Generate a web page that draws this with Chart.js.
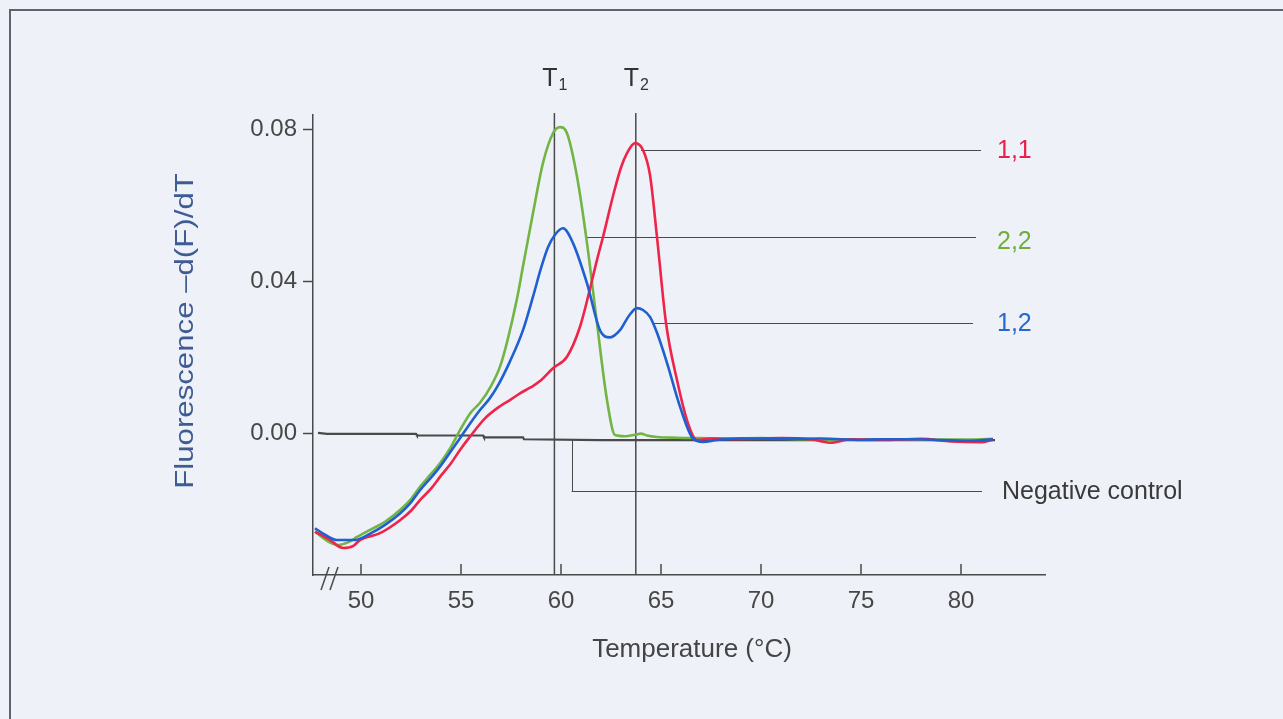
<!DOCTYPE html>
<html>
<head>
<meta charset="utf-8">
<title>Melting curve analysis</title>
<script src="https://cdn.jsdelivr.net/npm/chart.js@4.4.1/dist/chart.umd.min.js"></script>
<style>
  html, body { margin: 0; padding: 0; background: #eef1f8; }
  body { width: 1283px; height: 719px; position: relative; overflow: hidden; }
  .frame { position: absolute; left: 9px; top: 9px; right: -10px; bottom: -10px;
           border-top: 2px solid #5d6372; border-left: 2px solid #5d6372; }
  canvas { position: absolute; left: 0; top: 0; }
</style>
</head>
<body>
<div class="frame"></div>
<canvas id="meltChart" width="1283" height="719"></canvas>
<script>
// axis ticks
const xTickValues = [50, 55, 60, 65, 70, 75, 80];
const yTickValues = [0.00, 0.04, 0.08];

// genotype 1,1 (red)
const temp11 = [47.7, 48.45, 49.1, 49.6, 49.95, 50.95, 51.95, 52.5, 52.95, 53.5, 53.95, 54.5, 54.95, 55.45, 56.2, 56.95, 57.5, 57.95, 58.5, 58.95, 59.6, 60.3, 60.95, 61.4, 61.8, 62.1, 62.6, 63.0, 63.3, 63.7, 64.1, 64.45, 64.8, 65.25, 65.8, 66.35, 66.8, 67.5, 69, 71, 72.5, 73.5, 74.5, 76, 78, 79.5, 81, 81.6];
const deriv11 = [-0.0258, -0.0280, -0.0301, -0.0296, -0.0280, -0.0262, -0.0228, -0.0203, -0.0175, -0.0145, -0.0114, -0.0078, -0.0043, -0.0008, 0.0040, 0.0072, 0.0090, 0.0106, 0.0122, 0.0138, 0.0172, 0.0202, 0.0281, 0.0370, 0.0457, 0.0517, 0.0625, 0.0700, 0.0738, 0.0764, 0.0746, 0.0680, 0.0517, 0.0291, 0.0141, 0.0027, -0.0017, -0.0013, -0.0014, -0.0012, -0.0015, -0.0024, -0.0015, -0.0017, -0.0014, -0.0021, -0.0023, -0.0016];

// genotype 2,2 (green)
const temp22 = [47.7, 48.3, 48.85, 49.4, 49.8, 50.5, 51.2, 51.95, 52.5, 52.95, 53.5, 53.95, 54.5, 54.95, 55.5, 55.95, 56.5, 56.95, 57.3, 57.8, 58.1, 58.6, 59.1, 59.6, 59.95, 60.3, 60.8, 61.3, 61.8, 62.3, 62.7, 63.2, 63.7, 64.0, 64.3, 64.8, 65.8, 67, 68.5, 70, 72, 74, 76, 78, 80, 81.6];
const deriv22 = [-0.0258, -0.0282, -0.0293, -0.0285, -0.0272, -0.0252, -0.0232, -0.0201, -0.0172, -0.0140, -0.0106, -0.0078, -0.0035, 0.0009, 0.0056, 0.0081, 0.0125, 0.0176, 0.0240, 0.0355, 0.0440, 0.0580, 0.0712, 0.0790, 0.0806, 0.0790, 0.0676, 0.0501, 0.0290, 0.0088, -0.0004, -0.0007, -0.0003, 0.0000, -0.0005, -0.0009, -0.0011, -0.0012, -0.0013, -0.0012, -0.0015, -0.0016, -0.0015, -0.0016, -0.0016, -0.0014];

// genotype 1,2 (blue)
const temp12 = [47.7, 48.2, 48.8, 49.7, 50.5, 51.2, 51.95, 52.5, 52.95, 53.5, 53.95, 54.5, 54.95, 55.5, 55.95, 56.4, 56.8, 57.45, 58.1, 58.6, 59.0, 59.35, 59.7, 60.1, 60.6, 61.3, 61.95, 62.45, 62.95, 63.4, 63.8, 64.1, 64.45, 64.8, 65.3, 65.95, 66.6, 67.1, 67.8, 69, 71, 73, 75, 76, 77.5, 79, 80.5, 81.6];
const deriv12 = [-0.0249, -0.0266, -0.0280, -0.0280, -0.0262, -0.0240, -0.0210, -0.0181, -0.0149, -0.0116, -0.0087, -0.0046, -0.0012, 0.0030, 0.0062, 0.0090, 0.0122, 0.0190, 0.0272, 0.0360, 0.0435, 0.0490, 0.0523, 0.0540, 0.0501, 0.0395, 0.0272, 0.0253, 0.0272, 0.0310, 0.0330, 0.0325, 0.0307, 0.0265, 0.0186, 0.0071, -0.0013, -0.0022, -0.0017, -0.0013, -0.0014, -0.0013, -0.0017, -0.0015, -0.0015, -0.0017, -0.0019, -0.0015];

// negative control (dark grey)
const tempNeg = [47.85, 48.3, 52.75, 52.8, 56.1, 56.15, 58.1, 58.15, 62, 81.7];
const derivNeg = [0.0002, -0.0001, -0.0001, -0.0005, -0.0005, -0.0010, -0.0010, -0.0015, -0.0017, -0.0017];

// melting temperatures T1, T2
const meltTemps = [59.67, 63.74];
const meltIndex = ['1', '2'];

// label pointers: 1,1 / 2,2 / 1,2 / negative control
const labelNames = ['1,1', '2,2', '1,2', 'Negative control'];
const pointerFrom = [64.0, 61.2, 64.6, 60.53];
const pointerTo = [81.0, 80.75, 80.6, 81.05];
const pointerLevel = [0.0746, 0.0517, 0.0291, -0.0151];
const negPointerTop = -0.0017;

const labelColors = ['#ea1e4b', '#6fae3a', '#2568d0', '#3a3a3a'];
const FONT = '"Liberation Sans", Arial, Helvetica, sans-serif';

function toPoints(temps, vals) {
    return temps.map((t, i) => ({ x: t, y: vals[i] }));
}

function line(ctx, x1, y1, x2, y2) {
    ctx.beginPath();
    ctx.moveTo(x1, y1);
    ctx.lineTo(x2, y2);
    ctx.stroke();
}

// extra drawing: T lines, pointer lines, labels, inward x ticks, axis break, titles
const meltAnnotations = {
    id: 'meltAnnotations',
    beforeDatasetsDraw(chart) {
        const { ctx, chartArea: area, scales: { x, y } } = chart;
        ctx.save();
        ctx.strokeStyle = '#4a4a4a';

        // T1 / T2 vertical lines
        ctx.lineWidth = 1.5;
        meltTemps.forEach(t => {
            const px = x.getPixelForValue(t);
            line(ctx, px, area.top - 2, px, area.bottom);
        });

        // thin pointer lines to the labels
        ctx.lineWidth = 1;
        pointerLevel.forEach((lvl, i) => {
            const py = Math.round(y.getPixelForValue(lvl)) + 0.5;
            line(ctx, x.getPixelForValue(pointerFrom[i]), py, x.getPixelForValue(pointerTo[i]), py);
        });
        const negX = Math.round(x.getPixelForValue(pointerFrom[3])) + 0.5;
        line(ctx, negX, y.getPixelForValue(negPointerTop), negX, y.getPixelForValue(pointerLevel[3]));
        ctx.restore();
    },
    afterDraw(chart) {
        const { ctx, chartArea: area, scales: { x, y } } = chart;
        ctx.save();
        ctx.strokeStyle = '#4a4a4a';
        ctx.lineWidth = 1.5;

        // x ticks point up into the plot
        xTickValues.forEach(v => {
            const px = x.getPixelForValue(v);
            line(ctx, px, area.bottom, px, area.bottom - 11);
        });

        // axis break "//"
        [48.0, 48.45].forEach(v => {
            const px = x.getPixelForValue(v);
            line(ctx, px, area.bottom + 15, px + 8, area.bottom - 8);
        });

        // T labels with subscripts
        ctx.fillStyle = '#333';
        ctx.textBaseline = 'alphabetic';
        meltTemps.forEach((t, i) => {
            const px = x.getPixelForValue(t);
            ctx.font = '25px ' + FONT;
            const tw = ctx.measureText('T').width;
            ctx.font = '16px ' + FONT;
            const sw = ctx.measureText(meltIndex[i]).width;
            const x0 = px - (tw + sw) / 2;
            ctx.font = '25px ' + FONT;
            ctx.fillText('T', x0, area.top - 29);
            ctx.font = '16px ' + FONT;
            ctx.fillText(meltIndex[i], x0 + tw + 1, area.top - 25);
        });

        // labels on the right
        ctx.font = '25px ' + FONT;
        ctx.textBaseline = 'middle';
        ctx.textAlign = 'left';
        labelNames.forEach((name, i) => {
            ctx.fillStyle = labelColors[i];
            const py = y.getPixelForValue(pointerLevel[i]) + (i === 1 ? 5 : 1);
            ctx.fillText(name, area.right - (i === 3 ? 43 : 48), py);
        });

        // axis titles
        ctx.fillStyle = '#444';
        ctx.font = '26px ' + FONT;
        ctx.textAlign = 'center';
        ctx.fillText('Temperature (°C)', (area.left + area.right) / 2 + 13, area.bottom + 75);

        ctx.save();
        ctx.translate(186, (area.top + area.bottom) / 2 - 14);
        ctx.rotate(-Math.PI / 2);
        ctx.scale(1.2, 1);
        ctx.fillStyle = '#3e5c92';
        ctx.font = '26px ' + FONT;
        ctx.fillText('Fluorescence \u2013d(F)/dT', 0, 0);
        ctx.restore();

        ctx.restore();
    }
};

const tickFont = { family: FONT, size: 24 };
const curveStyle = { showLine: true, pointRadius: 0, borderWidth: 2.6, fill: false,
                     cubicInterpolationMode: 'monotone', borderJoinStyle: 'round' };

new Chart(document.getElementById('meltChart'), {
    type: 'scatter',
    data: {
        datasets: [
            { ...curveStyle, label: '1,2', data: toPoints(temp12, deriv12), borderColor: '#1f5fcf' },
            { ...curveStyle, label: '1,1', data: toPoints(temp11, deriv11), borderColor: '#ee2449' },
            { ...curveStyle, label: '2,2', data: toPoints(temp22, deriv22), borderColor: '#72b545' },
            { label: 'Negative control', data: toPoints(tempNeg, derivNeg), borderColor: '#4a4a4a',
              showLine: true, pointRadius: 0, borderWidth: 2.2, tension: 0 }
        ]
    },
    options: {
        responsive: false,
        animation: false,
        layout: { padding: { left: 0, top: 115, right: 238, bottom: 0 } },
        plugins: {
            legend: { display: false },
            tooltip: { enabled: false }
        },
        scales: {
            x: {
                type: 'linear',
                min: 47.6,
                max: 84.2,
                bounds: 'data',
                afterFit: s => { s.height = 144; },
                afterBuildTicks: s => { s.ticks = xTickValues.map(v => ({ value: v })); },
                grid: { drawOnChartArea: false, drawTicks: false },
                border: { color: '#4a4a4a', width: 1.5 },
                ticks: { font: tickFont, color: '#474747', padding: 12, maxRotation: 0, autoSkip: false }
            },
            y: {
                min: -0.0372,
                max: 0.0838,
                bounds: 'data',
                afterFit: s => { s.width = 313; },
                afterBuildTicks: s => { s.ticks = yTickValues.map(v => ({ value: v })); },
                grid: { drawOnChartArea: false, drawTicks: true, tickLength: 10, tickColor: '#4a4a4a', tickWidth: 1.5 },
                border: { color: '#4a4a4a', width: 1.5 },
                ticks: { font: tickFont, color: '#474747', padding: 6, callback: v => v.toFixed(2) }
            }
        }
    },
    plugins: [meltAnnotations]
});
</script>
</body>
</html>
